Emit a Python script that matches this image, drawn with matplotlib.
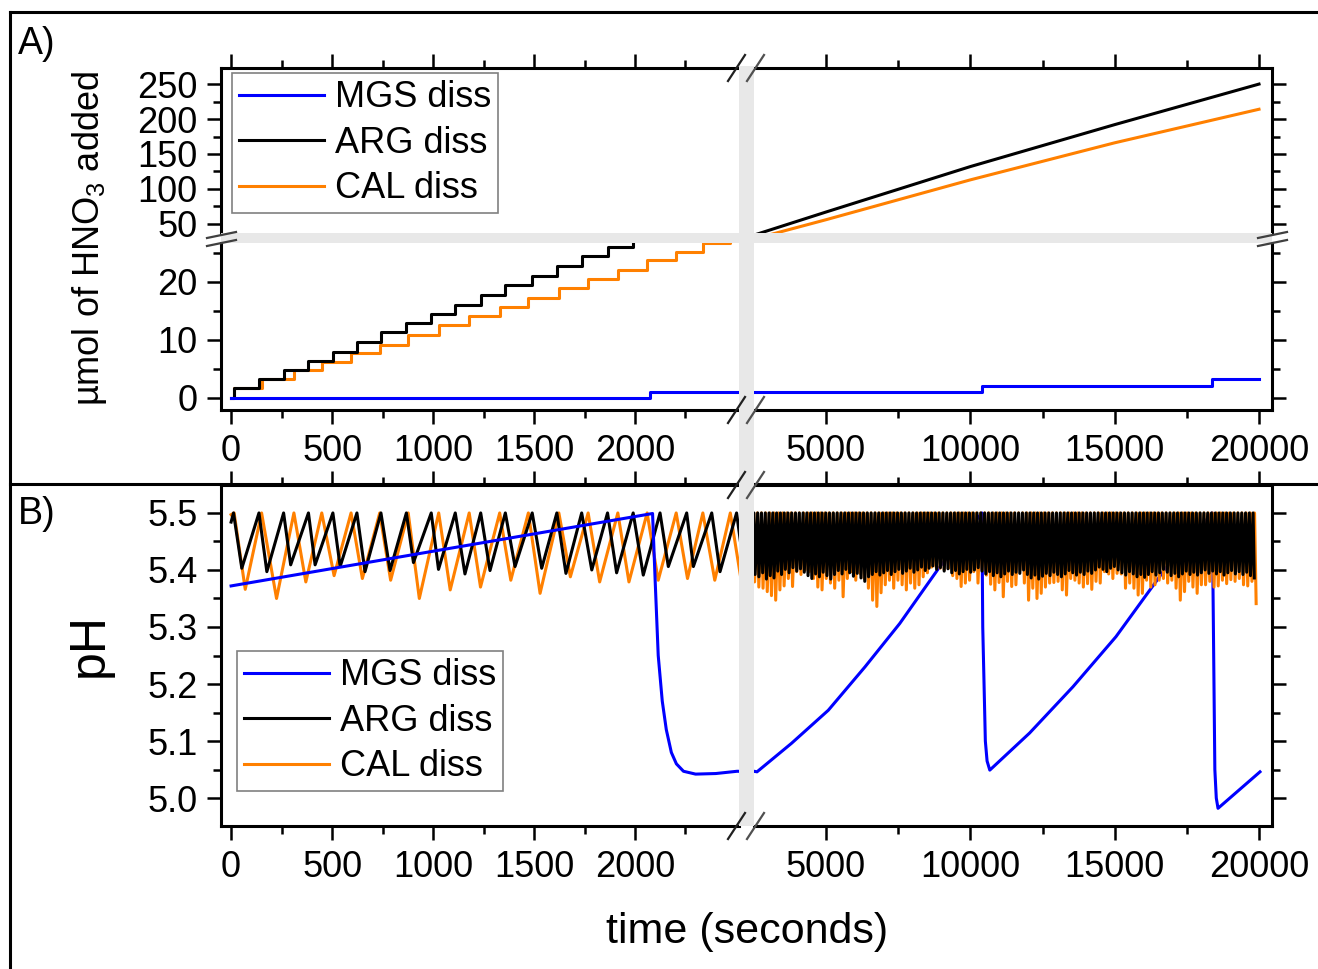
import matplotlib.pyplot as plt
from matplotlib.lines import Line2D
from matplotlib.patches import Rectangle
from matplotlib.ticker import MultipleLocator, FixedLocator, FormatStrFormatter

plt.rcParams['font.family'] = ['Liberation Sans', 'DejaVu Sans']
plt.rcParams['mathtext.fontset'] = 'custom'
plt.rcParams['mathtext.rm'] = 'Liberation Sans'

# ---------------- data ----------------
# acid additions (s) and cumulative umol after each addition
arg_dose_t = [12, 138, 260, 383, 504, 623, 742, 868, 991, 1110, 1236, 1358, 1491,
              1613, 1736, 1864, 1991, 2124, 2256, 2380, 2503]
arg_dose_cum = [1.67, 3.28, 4.83, 6.44, 8.0, 9.7, 11.3, 12.9, 14.5, 16.1, 17.8, 19.5,
                21.1, 22.8, 24.4, 26.0, 27.6, 29.2, 30.8, 32.4, 34.0]
cal_dose_t = [15, 151, 311, 449, 594, 736, 877, 1028, 1179, 1330, 1472, 1623, 1768,
              1915, 2060, 2204, 2336, 2472]
cal_dose_cum = [1.67, 3.28, 4.83, 6.15, 7.7, 9.2, 10.9, 12.5, 14.2, 15.7, 17.3, 18.9,
                20.5, 22.1, 23.7, 25.2, 26.7, 28.3]
mgs_dose_t = [0, 2075, 10414, 18384, 20000]
mgs_dose_cum = [0, 1.05, 2.15, 3.3, 3.3]

# long run totals (right part of the broken axis)
total_t = [2506, 5000, 10000, 15000, 20000]
arg_total = [34, 67, 132, 192, 250]
cal_total = [28.5, 56, 113, 166, 214]

# pH, MGS
mgs_t = [0, 2087, 2100, 2115, 2135, 2155, 2180, 2205, 2240, 2300, 2400, 2506, 2610,
         3805, 5080, 6350, 7553, 8904, 10400, 10430, 10520, 10580, 10674, 12052, 13552,
         15045, 16552, 16760, 18380, 18420, 18470, 18520, 18580, 20034]
mgs_ph = [5.372, 5.499, 5.38, 5.25, 5.17, 5.12, 5.08, 5.060, 5.047, 5.042, 5.043, 5.047,
          5.046, 5.096, 5.154, 5.230, 5.306, 5.403, 5.50, 5.30, 5.10, 5.065, 5.049, 5.114,
          5.195, 5.283, 5.388, 5.403, 5.50, 5.30, 5.05, 5.00, 4.982, 5.046]

# pH minima between additions (first 2500 s)
arg_low_t = [53, 177, 295, 416, 540, 663, 787, 903, 1027, 1158, 1282, 1406, 1538, 1658,
             1786, 1909, 2041, 2165, 2289, 2421]
arg_low_ph = [5.403, 5.397, 5.409, 5.409, 5.406, 5.397, 5.399, 5.413, 5.401, 5.393, 5.399,
              5.406, 5.403, 5.394, 5.400, 5.395, 5.391, 5.406, 5.406, 5.397]
cal_low_t = [70, 225, 370, 510, 650, 790, 932, 1085, 1235, 1385, 1530, 1680, 1825, 1970,
             2115, 2260, 2395]
cal_low_ph = [5.366, 5.350, 5.379, 5.390, 5.385, 5.382, 5.350, 5.365, 5.370, 5.382, 5.359,
              5.388, 5.379, 5.379, 5.382, 5.385, 5.382]

# pH minima per cycle after 2500 s (cycle length read from the dosing steps)
arg_cycle = 131
cal_cycle = 146
arg_band_low = [
    5.392, 5.388, 5.395, 5.384, 5.390, 5.386, 5.398, 5.392, 5.401, 5.395, 5.404, 5.398,
    5.402, 5.396, 5.390, 5.385, 5.393, 5.388, 5.396, 5.390, 5.384, 5.392, 5.399, 5.393,
    5.401, 5.395, 5.389, 5.394, 5.386, 5.380, 5.388, 5.392, 5.397, 5.391,
    5.395, 5.399, 5.392, 5.397, 5.401, 5.394, 5.398, 5.403, 5.396, 5.400, 5.405, 5.399,
    5.403, 5.407, 5.401, 5.404, 5.398, 5.402, 5.395, 5.399, 5.393, 5.397, 5.401, 5.396,
    5.400, 5.404, 5.398, 5.393, 5.397, 5.390, 5.395, 5.388, 5.393, 5.398, 5.392, 5.396,
    5.394, 5.400, 5.392, 5.386, 5.391, 5.384, 5.389, 5.394, 5.390, 5.396, 5.392, 5.388,
    5.393, 5.399, 5.395, 5.391, 5.396, 5.392, 5.398, 5.394, 5.400, 5.405, 5.401, 5.397,
    5.403, 5.406, 5.400, 5.395, 5.391, 5.397, 5.393, 5.388, 5.392, 5.387,
    5.392, 5.397, 5.391, 5.395, 5.401, 5.396, 5.390, 5.394, 5.388, 5.393, 5.398, 5.392,
    5.396, 5.391, 5.395, 5.400, 5.394, 5.398, 5.393, 5.397, 5.391, 5.395, 5.399, 5.393,
    5.397, 5.392, 5.396, 5.390, 5.386]
cal_band_low = [
    5.379, 5.370, 5.368, 5.362, 5.355, 5.347, 5.365, 5.372, 5.385, 5.371, 5.397, 5.392,
    5.400, 5.397, 5.385, 5.370, 5.365, 5.385, 5.377, 5.368, 5.382, 5.353, 5.385, 5.397,
    5.382, 5.394, 5.385, 5.368, 5.347, 5.336, 5.360,
    5.374, 5.382, 5.368, 5.382, 5.374, 5.365, 5.377, 5.368, 5.374, 5.388, 5.395, 5.405,
    5.406, 5.403, 5.400, 5.403, 5.390, 5.385, 5.371, 5.377, 5.382, 5.397, 5.377, 5.400,
    5.391, 5.375, 5.365, 5.378, 5.353, 5.380, 5.371,
    5.374, 5.400, 5.377, 5.347, 5.368, 5.350, 5.359, 5.370, 5.377, 5.378, 5.380, 5.365,
    5.356, 5.385, 5.382, 5.377, 5.370, 5.376, 5.366, 5.380, 5.377, 5.397, 5.393, 5.385,
    5.394, 5.393, 5.368, 5.377, 5.368, 5.356, 5.359,
    5.382, 5.370, 5.374, 5.382, 5.385, 5.377, 5.382, 5.368, 5.347, 5.362, 5.380, 5.370,
    5.359, 5.374, 5.374, 5.380, 5.370, 5.372, 5.382, 5.376, 5.383, 5.380, 5.385, 5.374,
    5.372, 5.380, 5.341]

BLUE = '#0000ff'
ORANGE = '#ff8000'
BLACK = '#000000'
LW = 2.2

W, H = 1318, 969


def fx(x):
    return x / W


def fy(y):
    return 1 - y / H


def rect(x0, y0, x1, y1):
    return [fx(x0), fy(y1), (x1 - x0) / W, (y1 - y0) / H]


def ph_trace(start_ph, peak_t, low_t, low_ph, cycle, band_low, offset, top=5.5):
    t, v = [0], [start_ph]
    for i, p in enumerate(peak_t):
        t.append(p)
        v.append(top)
        if i < len(low_t):
            t.append(low_t[i])
            v.append(low_ph[i])
    t0 = peak_t[-1]
    last = len(band_low) - 1
    for k, low in enumerate(band_low):
        t.append(t0 + cycle * k + offset)
        v.append(low)
        if k < last:   # the record stops on the last minimum
            t.append(t0 + cycle * (k + 1))
            v.append(top)
    return t, v


arg_t, arg_ph = ph_trace(5.484, arg_dose_t, arg_low_t, arg_low_ph, arg_cycle, arg_band_low, 41)
cal_t, cal_ph = ph_trace(5.497, cal_dose_t, cal_low_t, cal_low_ph, cal_cycle, cal_band_low, 55)

# ---------------- figure ----------------
fig = plt.figure(figsize=(W / 100, H / 100), dpi=100)

a_ul = fig.add_axes(rect(221, 68, 739, 233))
a_ur = fig.add_axes(rect(754, 68, 1272, 233))
a_ll = fig.add_axes(rect(221, 243, 739, 410))
a_lr = fig.add_axes(rect(754, 243, 1272, 410))
b_l = fig.add_axes(rect(221, 485, 739, 826))
b_r = fig.add_axes(rect(754, 485, 1272, 826))

XL_LEFT = (-50, 2515)
XL_RIGHT = (2506, 20450)
LEFT_MAJ = [0, 500, 1000, 1500, 2000]
LEFT_MIN = [250, 750, 1250, 1750, 2250]


def style(ax, xlim, ylim, xstep, ystep, sides, xlab=False, ylab=False, yfmt='%d'):
    ax.set_xlim(xlim)
    ax.set_ylim(ylim)
    if xstep is None:
        ax.xaxis.set_major_locator(FixedLocator(LEFT_MAJ))
        ax.xaxis.set_minor_locator(FixedLocator(LEFT_MIN))
    else:
        ax.xaxis.set_major_locator(MultipleLocator(xstep))
        ax.xaxis.set_minor_locator(MultipleLocator(xstep / 2))
    ax.yaxis.set_major_locator(MultipleLocator(ystep))
    ax.yaxis.set_minor_locator(MultipleLocator(ystep / 2))
    ax.xaxis.set_major_formatter(FormatStrFormatter('%d'))
    ax.yaxis.set_major_formatter(FormatStrFormatter(yfmt))
    for s in ['left', 'right', 'top', 'bottom']:
        ax.spines[s].set_visible(s in sides)
        ax.spines[s].set_linewidth(2.2)
    ax.tick_params(which='both', direction='out', width=1.8, labelsize=26,
                   left='left' in sides, right='right' in sides,
                   top='top' in sides, bottom='bottom' in sides,
                   labelleft=ylab, labelbottom=xlab, labeltop=False, labelright=False)
    ax.tick_params(which='major', length=10, pad=7)
    ax.tick_params(which='minor', length=5.5)
    ax.patch.set_alpha(0)


style(a_ul, XL_LEFT, (37, 273), None, 50, ['left', 'top'], ylab=True)
style(a_ur, XL_RIGHT, (37, 273), 5000, 50, ['right', 'top'])
style(a_ll, XL_LEFT, (-2.07, 26.7), None, 10, ['left', 'bottom'], xlab=True, ylab=True)
style(a_lr, XL_RIGHT, (-2.07, 26.7), 5000, 10, ['right', 'bottom'], xlab=True)
style(b_l, XL_LEFT, (4.951, 5.549), None, 0.1, ['left', 'top', 'bottom'],
      xlab=True, ylab=True, yfmt='%.1f')
style(b_r, XL_RIGHT, (4.951, 5.549), 5000, 0.1, ['right', 'top', 'bottom'], xlab=True)

# panel A: acid added
for ax in (a_ul, a_ll):
    ax.plot([0] + cal_dose_t, [0] + cal_dose_cum, drawstyle='steps-post', color=ORANGE, lw=LW)
    ax.plot([0] + arg_dose_t, [0] + arg_dose_cum, drawstyle='steps-post', color=BLACK, lw=LW)
for ax in (a_ur, a_lr):
    ax.plot(total_t, cal_total, color=ORANGE, lw=LW)
    ax.plot(total_t, arg_total, color=BLACK, lw=LW)
for ax in (a_ul, a_ll, a_ur, a_lr):
    ax.plot(mgs_dose_t, mgs_dose_cum, drawstyle='steps-post', color=BLUE, lw=LW)

# panel B: pH
b_l.plot(cal_t, cal_ph, color=ORANGE, lw=LW, zorder=2)
b_l.plot(arg_t, arg_ph, color=BLACK, lw=LW, zorder=3)
b_l.plot(mgs_t, mgs_ph, color=BLUE, lw=LW, zorder=4)
b_r.plot(mgs_t, mgs_ph, color=BLUE, lw=LW, zorder=2)
b_r.plot(cal_t, cal_ph, color=ORANGE, lw=LW, zorder=3)
b_r.plot(arg_t, arg_ph, color=BLACK, lw=LW, zorder=4)

# axis breaks
band = '#e8e8e8'
fig.add_artist(Rectangle((fx(739), fy(826)), 15 / W, (826 - 66) / H,
                         transform=fig.transFigure, color=band, lw=0, zorder=1))
fig.add_artist(Rectangle((fx(221), fy(243)), (1272 - 221) / W, 10 / H,
                         transform=fig.transFigure, color=band, lw=0, zorder=1))
for y in (68, 410, 485, 826):
    for x0, c in ((728, '#202020'), (747, '#505050')):
        fig.add_artist(Line2D([fx(x0), fx(x0 + 17)], [fy(y + 13), fy(y - 13)],
                              transform=fig.transFigure, color=c, lw=1.6, zorder=2))
for x in (221, 1272):
    for y0 in (238, 246):
        fig.add_artist(Line2D([fx(x - 14), fx(x + 15)], [fy(y0), fy(y0 - 6)],
                              transform=fig.transFigure, color='#404040', lw=1.6, zorder=2))

# outer frame of the figure
for xs, ys in (([10, 10], [12, 969]), ([10, 1318], [12, 12]), ([10, 1318], [484, 484])):
    fig.add_artist(Line2D([fx(v) for v in xs], [fy(v) for v in ys],
                          transform=fig.transFigure, color='black', lw=2.2, zorder=0.5))

# labels
fig.text(fx(18), fy(44), 'A)', fontsize=27, ha='left', va='center')
fig.text(fx(18), fy(514), 'B)', fontsize=27, ha='left', va='center')
fig.text(fx(90), fy(238), 'µmol of HNO$_{3}$ added', rotation=90, fontsize=26,
         ha='center', va='center')
fig.text(fx(90), fy(645), 'pH', rotation=90, fontsize=36, ha='center', va='center')
fig.text(fx(747), fy(932), 'time (seconds)', fontsize=31, ha='center', va='center')

handles = [Line2D([], [], color=BLUE, lw=LW, label='MGS diss'),
           Line2D([], [], color=BLACK, lw=LW, label='ARG diss'),
           Line2D([], [], color=ORANGE, lw=LW, label='CAL diss')]
for x0, y0 in ((232, 73), (237, 651)):
    leg = fig.legend(handles=handles, loc='upper left', bbox_to_anchor=(fx(x0), fy(y0)),
                     fontsize=26, handlelength=2.35, handletextpad=0.3, labelspacing=0.29,
                     borderpad=0.2, borderaxespad=0, fancybox=False, edgecolor='#808080',
                     framealpha=1)
    leg.get_frame().set_linewidth(1.2)

fig.savefig('out.png', dpi=100)
